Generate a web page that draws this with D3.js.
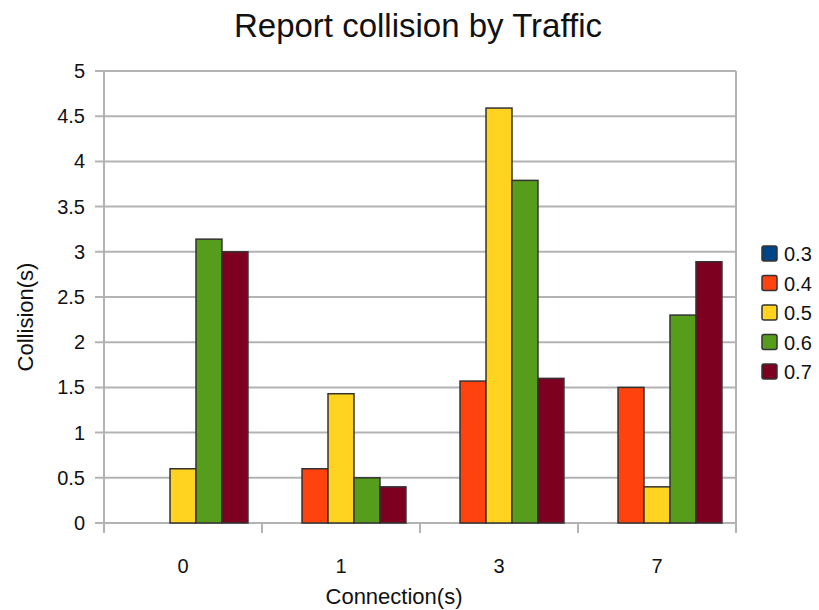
<!DOCTYPE html>
<html>
<head>
<meta charset="utf-8">
<script src="https://cdn.jsdelivr.net/npm/d3@7"></script>
<style>
  body { margin: 0; background: #fff; }
  text { font-family: "Liberation Sans", Arial, sans-serif; fill: #111; }
</style>
</head>
<body>
<div id="chart"></div>
<script>
// data
let connections = ["0", "1", "3", "7"];
let traffic = ["0.3", "0.4", "0.5", "0.6", "0.7"];
let colors = ["#004586", "#ff420e", "#ffd320", "#579d1c", "#7e0021"];
let collisions = {
  "0.3": [0, 0, 0, 0],
  "0.4": [0, 0.6, 1.57, 1.5],
  "0.5": [0.6, 1.43, 4.59, 0.4],
  "0.6": [3.14, 0.5, 3.79, 2.3],
  "0.7": [3.0, 0.4, 1.6, 2.89]
};
let yTicks = [0, 0.5, 1, 1.5, 2, 2.5, 3, 3.5, 4, 4.5, 5];

let margin = {top: 71, right: 83, bottom: 87, left: 104},
  width = 819 - margin.left - margin.right,
  height = 610 - margin.top - margin.bottom;

let svg = d3.select("#chart").append("svg")
  .attr("width", 819)
  .attr("height", 610);

let g = svg.append("g")
  .attr("transform", "translate(" + margin.left + "," + margin.top + ")");

let x0 = d3.scaleBand()
  .domain(connections)
  .range([0, width])
  .padding(0);

let x1 = d3.scaleBand()
  .domain(traffic)
  .range([0, x0.bandwidth()])
  .paddingInner(0)
  .paddingOuter(0.54);

let y = d3.scaleLinear()
  .domain([0, 5])
  .range([height, 0]);

let color = d3.scaleOrdinal()
  .domain(traffic)
  .range(colors);

let grey = "#b3b3b3";

// horizontal grid lines with small ticks on the left
g.selectAll(".grid")
  .data(yTicks)
  .enter().append("line")
  .attr("class", "grid")
  .attr("x1", -9)
  .attr("x2", width)
  .attr("y1", d => y(d))
  .attr("y2", d => y(d))
  .attr("stroke", grey)
  .attr("stroke-width", 2);

// vertical axis line + right border
g.append("line")
  .attr("x1", 0).attr("x2", 0)
  .attr("y1", 0).attr("y2", height + 10)
  .attr("stroke", grey).attr("stroke-width", 2);

// x ticks at group boundaries
let bounds = connections.map(c => x0(c)).concat([width]);
g.selectAll(".xtick")
  .data(bounds)
  .enter().append("line")
  .attr("class", "xtick")
  .attr("x1", d => d).attr("x2", d => d)
  .attr("y1", d => d === width ? 0 : height)
  .attr("y2", height + 10)
  .attr("stroke", grey)
  .attr("stroke-width", 2);

// y tick labels
g.selectAll(".ylab")
  .data(yTicks)
  .enter().append("text")
  .attr("class", "ylab")
  .attr("x", -19)
  .attr("y", d => y(d))
  .attr("dy", "0.35em")
  .attr("text-anchor", "end")
  .style("font-size", "20px")
  .text(d => d);

// x tick labels
g.selectAll(".xlab")
  .data(connections)
  .enter().append("text")
  .attr("class", "xlab")
  .attr("x", d => x0(d) + x0.bandwidth() / 2)
  .attr("y", height + 50)
  .attr("text-anchor", "middle")
  .style("font-size", "20px")
  .text(d => d);

// bars
let groups = g.selectAll(".group")
  .data(connections)
  .enter().append("g")
  .attr("class", "group")
  .attr("transform", d => "translate(" + x0(d) + ",0)");

groups.selectAll("rect")
  .data(function (c, i) {
    return traffic.map(t => ({key: t, value: collisions[t][i]}));
  })
  .enter().append("rect")
  .attr("x", d => x1(d.key))
  .attr("y", d => y(d.value))
  .attr("width", x1.bandwidth())
  .attr("height", d => y(0) - y(d.value))
  .attr("fill", d => color(d.key))
  .attr("stroke", "#333")
  .attr("stroke-width", 1.5);

// title and axis titles
svg.append("text")
  .attr("x", 418)
  .attr("y", 37)
  .attr("text-anchor", "middle")
  .style("font-size", "33px")
  .text("Report collision by Traffic");

svg.append("text")
  .attr("x", 394)
  .attr("y", 604)
  .attr("text-anchor", "middle")
  .style("font-size", "22px")
  .text("Connection(s)");

svg.append("text")
  .attr("transform", "translate(33,317) rotate(-90)")
  .attr("text-anchor", "middle")
  .style("font-size", "22px")
  .text("Collision(s)");

// legend
let legend = svg.selectAll(".legend")
  .data(traffic)
  .enter().append("g")
  .attr("class", "legend")
  .attr("transform", (d, i) => "translate(762," + (254 + i * 29.5) + ")");

legend.append("rect")
  .attr("x", 0)
  .attr("y", -8)
  .attr("width", 15)
  .attr("height", 15)
  .attr("rx", 2)
  .attr("fill", d => color(d))
  .attr("stroke", "#333")
  .attr("stroke-width", 1.5);

legend.append("text")
  .attr("x", 22)
  .attr("y", 0)
  .attr("dy", "0.35em")
  .style("font-size", "20px")
  .text(d => d);
</script>
</body>
</html>
